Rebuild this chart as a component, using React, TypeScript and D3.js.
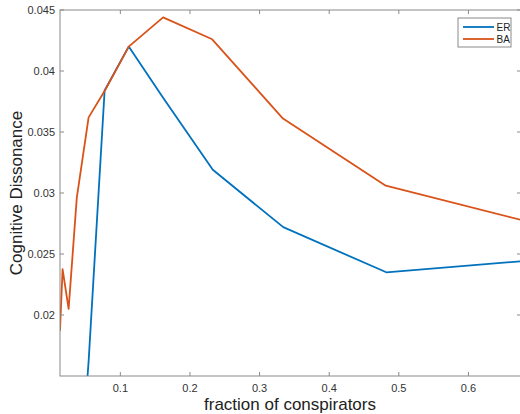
import React from "react";
import * as d3 from "d3";

const xER = [0.0133, 0.017, 0.0257, 0.0374, 0.0544, 0.0774, 0.112, 0.1614, 0.2328, 0.334, 0.482, 0.6755];
const yER = [0.0, 0.0, 0.0, 0.003, 0.0162, 0.0384, 0.042, 0.0378, 0.0319, 0.0272, 0.0235, 0.0244];
const xBA = [0.0133, 0.017, 0.0257, 0.0374, 0.0544, 0.0778, 0.112, 0.1614, 0.2319, 0.3336, 0.4813, 0.6755];
const yBA = [0.0187, 0.02375, 0.0205, 0.0296, 0.0362, 0.0384, 0.042, 0.0444, 0.0426, 0.0361, 0.0306, 0.0278];
const xTicks = [0.1, 0.2, 0.3, 0.4, 0.5, 0.6];
const yTicks = [0.02, 0.025, 0.03, 0.035, 0.04, 0.045];
const seriesNames = ["ER", "BA"];
const seriesColors = ["#0072BD", "#D95319"];

export default function App() {
  const W = 520, H = 414;
  const L = 60, R = 521, T = 10, B = 376;
  const x = d3.scaleLinear().domain([0.0133, 0.6755]).range([L, R]);
  const y = d3.scaleLinear().domain([0.015, 0.045]).range([B, T]);
  const line = d3.line<[number, number]>().x(d => x(d[0])).y(d => y(d[1]));
  const dER = xER.map((v, i) => [v, yER[i]] as [number, number]);
  const dBA = xBA.map((v, i) => [v, yBA[i]] as [number, number]);
  const axisColor = "#8a8a8a";
  const font = "'Liberation Sans', Arial, Helvetica, sans-serif";
  return (
    <svg width={W} height={H} style={{ position: "absolute", left: 0, top: 0 }} fontFamily={font}>
      <rect x={0} y={0} width={W} height={H} fill="#fff" />
      <defs>
        <clipPath id="plotclip">
          <rect x={L} y={T} width={R - L} height={B - T} />
        </clipPath>
      </defs>
      <g clipPath="url(#plotclip)">
        <path d={line(dER) || ""} fill="none" stroke={seriesColors[0]} strokeWidth={1.8} strokeLinejoin="round" />
        <path d={line(dBA) || ""} fill="none" stroke={seriesColors[1]} strokeWidth={1.8} strokeLinejoin="round" />
      </g>
      <rect x={L} y={T} width={R - L} height={B - T} fill="none" stroke={axisColor} strokeWidth={1} />
      {xTicks.map(t => (
        <g key={"x" + t}>
          <line x1={x(t)} x2={x(t)} y1={B} y2={B - 4} stroke={axisColor} />
          <line x1={x(t)} x2={x(t)} y1={T} y2={T + 4} stroke={axisColor} />
          <text x={x(t)} y={392} textAnchor="middle" fontSize={11} fill="#333">{String(t)}</text>
        </g>
      ))}
      {yTicks.map(t => (
        <g key={"y" + t}>
          <line x1={L} x2={L + 4} y1={y(t)} y2={y(t)} stroke={axisColor} />
          <line x1={R} x2={R - 4} y1={y(t)} y2={y(t)} stroke={axisColor} />
          <text x={55} y={y(t) + 4} textAnchor="end" fontSize={11} fill="#333">{String(t)}</text>
        </g>
      ))}
      <text x={290} y={410} textAnchor="middle" fontSize={17} fill="#222">fraction of conspirators</text>
      <text transform={`translate(22,${(T + B) / 2}) rotate(-90)`} textAnchor="middle" fontSize={17} fill="#222">Cognitive Dissonance</text>
      <g>
        <rect x={458} y={18} width={53} height={29} fill="#fff" stroke={axisColor} />
        {seriesNames.map((n, i) => (
          <g key={n}>
            <line x1={463} x2={494} y1={27 + i * 12} y2={27 + i * 12} stroke={seriesColors[i]} strokeWidth={1.8} />
            <text x={496.5} y={30.5 + i * 12} fontSize={10} fill="#222">{n}</text>
          </g>
        ))}
      </g>
    </svg>
  );
}
